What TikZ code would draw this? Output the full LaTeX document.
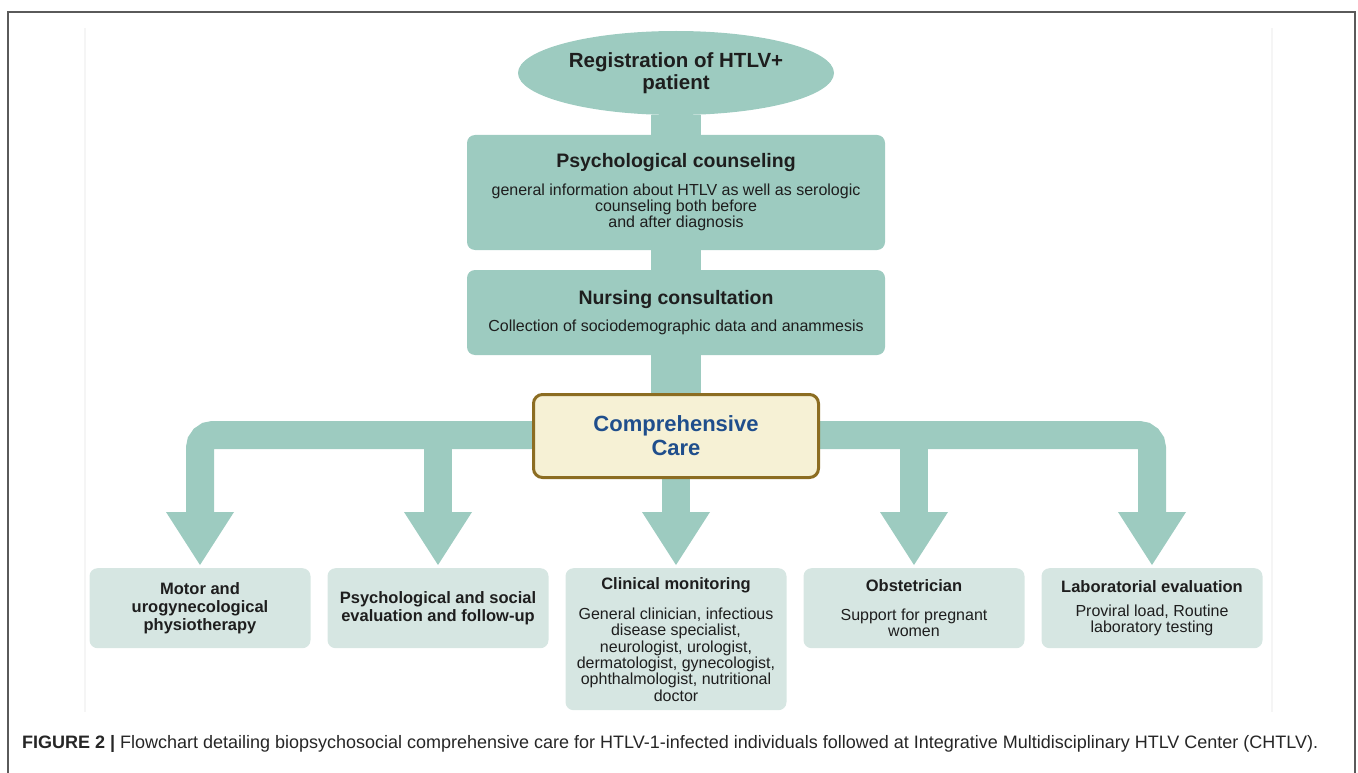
\documentclass[tikz,border=0pt]{standalone}
\usepackage{fontspec}
\setmainfont{Liberation Sans}
\usepackage{xcolor}
\usepackage{graphicx}
\usepackage{tikz}
\usetikzlibrary{positioning, calc, shapes.geometric, backgrounds}
\definecolor{SeaGreen} {HTML}{9DCBC0}
\definecolor{PaleSea}  {HTML}{D6E6E2}
\definecolor{Cream}    {HTML}{F6F1D5}
\definecolor{Ochre}    {HTML}{8C6D22}
\definecolor{InkBlue}  {HTML}{1F4E8C}
\definecolor{Ink}      {HTML}{1E1E1E}
\definecolor{FrameGray}{HTML}{5A5A5A}

\newcommand{\tophead}[1]{{\fontsize{19.5}{21}\selectfont\bfseries #1}}
\newcommand{\leafhead}[1]{{\fontsize{16.5}{18}\selectfont\bfseries #1}}

\tikzset{
  regblob/.style  ={ellipse, fill=SeaGreen, minimum width=316pt, minimum height=84pt,
                    inner sep=0pt, align=center, text=Ink,
                    font=\fontsize{20.5}{22.5}\selectfont\bfseries},
  topbox/.style   ={fill=SeaGreen, rounded corners=8pt, minimum width=418pt,
                    align=center, text=Ink, font=\fontsize{16}{16.3}\selectfont},
  carebox/.style  ={fill=Cream, draw=Ochre, line width=3pt, rounded corners=9pt,
                    minimum width=285pt, minimum height=83pt, align=center,
                    text=InkBlue, font=\fontsize{22}{24}\selectfont\bfseries},
  leafbox/.style  ={fill=PaleSea, rounded corners=8pt, minimum width=221pt,
                    minimum height=80pt, anchor=north, align=center, text=Ink,
                    font=\fontsize{16}{16.3}\selectfont},
  leafbold/.style ={leafbox, font=\fontsize{16.5}{18}\selectfont\bfseries},
  stem/.style     ={draw=SeaGreen, line width=50pt},
  branch/.style   ={draw=SeaGreen, line width=28pt, rounded corners=13pt},
}

\begin{document}
\begin{tikzpicture}[x=1pt, y=-1pt]
  \useasboundingbox (0,0) rectangle (1358,773);
  \draw[black!4, line width=1.5pt] (85,28) -- (85,712) (1272,28) -- (1272,712);
  \draw[FrameGray, line width=1.5pt] (8,773) -- (8,12) -- (1355,12) -- (1355,773);

  \node[regblob] (reg) at (676,73) {Registration of HTLV+\\patient};
  \node[topbox, minimum height=115pt] (counsel) at (676,192.5)
    {\tophead{Psychological counseling}\\[11pt]
     general information about HTLV as well as serologic\\
     counseling both before\\and after diagnosis};
  \node[topbox, minimum height=85pt] (nursing) at (676,312.5)
    {\tophead{Nursing consultation}\\[11pt]
     Collection of sociodemographic data and anammesis};
  \node[carebox] (care) at (676,436) {Comprehensive\\Care};

  \node[leafbold] (motor)  at (200,568) {Motor and\\urogynecological\\physiotherapy};
  \node[leafbold] (psysoc) at (438,568) {Psychological and social\\evaluation and follow-up};
  \node[leafbox, minimum height=142pt] (clin) at (676,568)
    {\leafhead{Clinical monitoring}\\[14pt]
     General clinician, infectious\\disease specialist,\\neurologist, urologist,\\
     dermatologist, gynecologist,\\ophthalmologist, nutritional\\doctor};
  \node[leafbox] (obst) at (914,568)
    {\leafhead{Obstetrician}\\[13pt] Support for pregnant\\women};
  \node[leafbox] (lab) at (1152,568)
    {\leafhead{Laboratorial evaluation}\\[7pt] Proviral load, Routine\\laboratory testing};

  \coordinate (hub) at (676,435);
  \begin{pgfonlayer}{background}
    \draw[stem] (reg.south) -- (counsel.north);
    \draw[stem] (counsel.south) -- (nursing.north);
    \draw[stem] (nursing.south) -- (care.north);
    \draw[branch] (hub) -| ($(motor.north)+(0,-55)$);
    \draw[branch] (hub) -| ($(lab.north)+(0,-55)$);
    \draw[branch] (hub -| psysoc) -- ($(psysoc.north)+(0,-55)$);
    \draw[branch] (hub -| obst) -- ($(obst.north)+(0,-55)$);
    \draw[branch] (care.south) -- ($(clin.north)+(0,-55)$);
  \end{pgfonlayer}
  \foreach \leaf in {motor, psysoc, clin, obst, lab}
    \fill[SeaGreen] ($(\leaf.north)+(-34,-56)$) -- ($(\leaf.north)+(34,-56)$)
      -- ($(\leaf.north)+(0,-3)$) -- cycle;

  \node[anchor=base west, inner sep=0pt, text=black!85] (caption) at (22,748)
    {\resizebox{1296pt}{\height}{\fontsize{18}{20}\selectfont\textbf{FIGURE 2 |}
     Flowchart detailing biopsychosocial comprehensive care for HTLV-1-infected
     individuals followed at Integrative Multidisciplinary HTLV Center (CHTLV).}};
\end{tikzpicture}
\end{document}
